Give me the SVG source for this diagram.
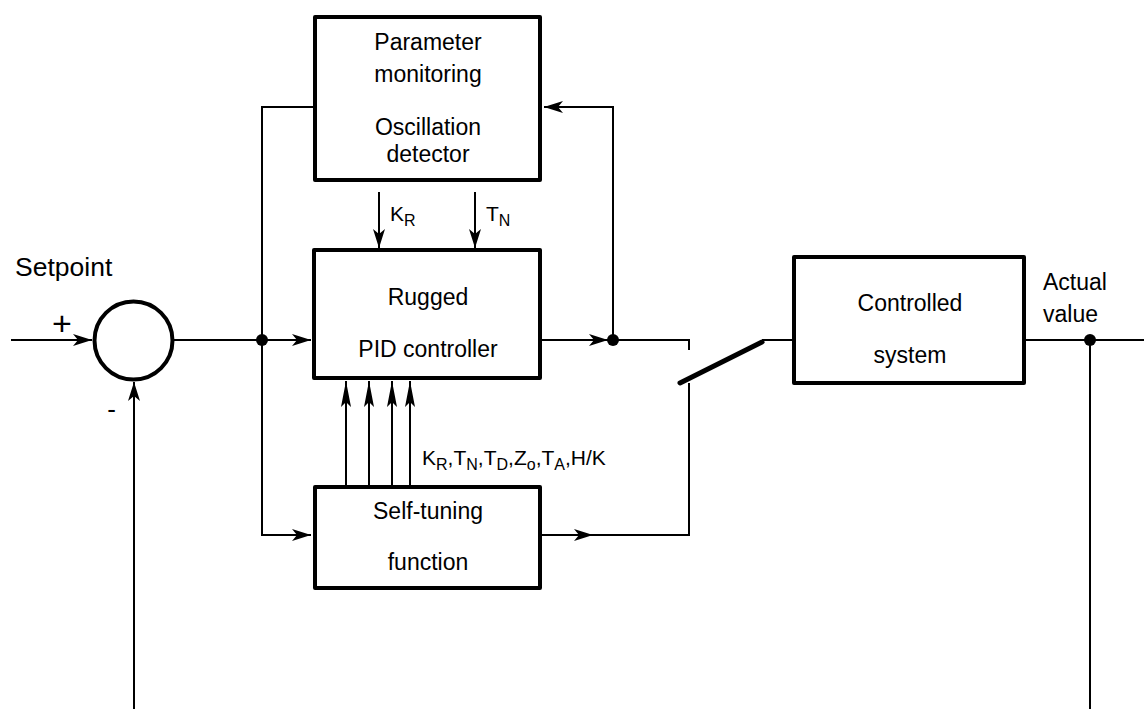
<svg xmlns="http://www.w3.org/2000/svg" width="1144" height="709" viewBox="0 0 1144 709">
<style>
.box{fill:#fff;stroke:#000;stroke-width:4;stroke-linejoin:round}
.ln{fill:none;stroke:#000;stroke-width:2}
.t{font-family:"Liberation Sans",Arial,Helvetica,sans-serif;font-size:23px;fill:#000}
.c{text-anchor:middle}
.lbl{font-family:"Liberation Sans",Arial,Helvetica,sans-serif;font-size:21px;fill:#000}
</style>
<defs>
<marker id="a" viewBox="-20 -7 21 14" markerWidth="21" markerHeight="14" refX="0" refY="0" orient="auto" markerUnits="userSpaceOnUse">
<path d="M0,0 L-19,-6 L-14,0 L-19,6 Z" fill="#000"/>
</marker>
<marker id="al" viewBox="-27 -6 28 12" markerWidth="28" markerHeight="12" refX="0" refY="0" orient="auto" markerUnits="userSpaceOnUse">
<path d="M0,0 L-26,-5 L-21,0 L-26,5 Z" fill="#000"/>
</marker>
</defs>
<rect width="1144" height="709" fill="#fff"/>

<g id="connectors">
<path class="ln" d="M11,340 H92" marker-end="url(#a)"/>
<path class="ln" d="M174,340 H311" marker-end="url(#a)"/>
<path class="ln" d="M313,107 H262 V535 H311" marker-end="url(#a)"/>
<path class="ln" d="M542,340 H608" marker-end="url(#a)"/>
<path class="ln" d="M608,340 H689 V350"/>
<path class="ln" d="M613,340 V107 H544" marker-end="url(#a)"/>
<path class="ln" d="M379,192 V248" marker-end="url(#a)"/>
<path class="ln" d="M475,192 V248" marker-end="url(#a)"/>
<path class="ln" d="M346,487 V381" marker-end="url(#al)"/>
<path class="ln" d="M369,487 V381" marker-end="url(#al)"/>
<path class="ln" d="M392,487 V381" marker-end="url(#al)"/>
<path class="ln" d="M410,487 V381" marker-end="url(#al)"/>
<path class="ln" d="M542,535 H593" marker-end="url(#a)"/>
<path class="ln" d="M593,535 H689 V383"/>
<line x1="680" y1="383" x2="762" y2="342" stroke="#000" stroke-width="5" stroke-linecap="round"/>
<path class="ln" d="M762,340 H793"/>
<path class="ln" d="M1026,340 H1144"/>
<path class="ln" d="M1090,340 V709"/>
<path class="ln" d="M134,709 V382" marker-end="url(#a)"/>
<circle cx="262" cy="340" r="6" fill="#000"/>
<circle cx="613" cy="340" r="6" fill="#000"/>
<circle cx="1090" cy="340" r="6" fill="#000"/>
</g>

<g id="sum">
<circle cx="133.5" cy="340.5" r="39" fill="#fff" stroke="#000" stroke-width="4"/>
<text class="t" x="62" y="335" font-size="34" text-anchor="middle" style="font-size:34px">+</text>
<text class="t" x="111.5" y="418" text-anchor="middle" style="font-size:26px">-</text>
</g>

<g id="setpoint">
<text class="t" x="15" y="276" style="font-size:26.5px">Setpoint</text>
</g>

<g id="monitor">
<rect class="box" x="315" y="17" width="225" height="163"/>
<text class="t c" x="428" y="50">Parameter</text>
<text class="t c" x="428" y="82">monitoring</text>
<text class="t c" x="428" y="135">Oscillation</text>
<text class="t c" x="428" y="162">detector</text>
</g>

<g id="kr-tn">
<text class="lbl" x="390" y="221">K<tspan dy="5" font-size="16">R</tspan></text>
<text class="lbl" x="486" y="221">T<tspan dy="5" font-size="16">N</tspan></text>
</g>

<g id="pid">
<rect class="box" x="314" y="250" width="226" height="128"/>
<text class="t c" x="428" y="305">Rugged</text>
<text class="t c" x="428" y="357">PID controller</text>
</g>

<g id="params">
<text class="lbl" x="422" y="465">K<tspan dy="5" font-size="16">R</tspan><tspan dy="-5">,T</tspan><tspan dy="5" font-size="16">N</tspan><tspan dy="-5">,T</tspan><tspan dy="5" font-size="16">D</tspan><tspan dy="-5">,Z</tspan><tspan dy="5" font-size="16">o</tspan><tspan dy="-5">,T</tspan><tspan dy="5" font-size="16">A</tspan><tspan dy="-5">,H/K</tspan></text>
</g>

<g id="selftuning">
<rect class="box" x="315" y="487" width="225" height="101"/>
<text class="t c" x="428" y="519">Self-tuning</text>
<text class="t c" x="428" y="570">function</text>
</g>

<g id="plant">
<rect class="box" x="794" y="257" width="230" height="126"/>
<text class="t c" x="910" y="311">Controlled</text>
<text class="t c" x="910" y="363">system</text>
</g>

<g id="actual">
<text class="t" x="1043" y="290">Actual</text>
<text class="t" x="1043" y="322">value</text>
</g>
</svg>
